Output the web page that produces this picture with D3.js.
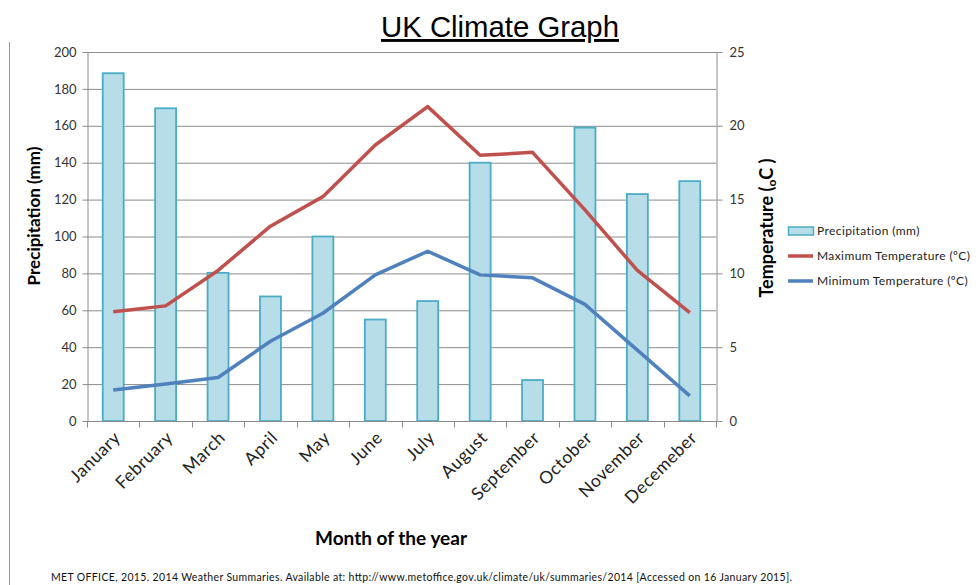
<!DOCTYPE html>
<html>
<head>
<meta charset="utf-8">
<script src="https://cdn.jsdelivr.net/npm/d3@7"></script>
<style>
  body { margin: 0; background: #fff; }
  svg { display: block; }
  .tick text { font-family: Lato, "Open Sans", sans-serif; fill: #333; }
</style>
</head>
<body>
<svg id="chart" width="976" height="585"></svg>
<script>
// ---- data ----
const months = ['January', 'February', 'March', 'April', 'May', 'June', 'July',
  'August', 'September', 'October', 'November', 'Decemeber'];
const precipitation = [188.5, 169.5, 80.3, 67.5, 100, 55, 65, 140, 22.2, 159, 123, 130];
const maxTemp = [7.4, 7.8, 10.2, 13.2, 15.2, 18.7, 21.3, 18.0, 18.2, 14.3, 10.2, 7.35];
const minTemp = [2.1, 2.5, 2.95, 5.4, 7.3, 9.9, 11.5, 9.9, 9.7, 7.9, 4.8, 1.7];
const precipTicks = [0, 20, 40, 60, 80, 100, 120, 140, 160, 180, 200];
const tempTicks = [0, 5, 10, 15, 20, 25];

const legendItems = [
  {label: 'Precipitation (mm)', type: 'bar'},
  {label: 'Maximum Temperature  (\u00BAC)', type: 'line', color: '#C0504D'},
  {label: 'Minimum Temperature  (\u00BAC)', type: 'line', color: '#4F81BD'}
];

// ---- layout ----
const svg = d3.select('#chart');
const plot = {left: 87, right: 716, top: 52, bottom: 421};
const sans = 'Lato, "Open Sans", sans-serif';

const x = d3.scaleBand().domain(months).range([plot.left, plot.right]).padding(0);
const yP = d3.scaleLinear().domain([0, 200]).range([plot.bottom, plot.top]);
const yT = d3.scaleLinear().domain([0, 25]).range([plot.bottom, plot.top]);

// left page border
svg.append('line')
  .attr('x1', 9.5).attr('x2', 9.5).attr('y1', 42).attr('y2', 585)
  .attr('stroke', '#999').attr('stroke-width', 1);

// title
svg.append('text')
  .attr('x', 500).attr('y', 37)
  .attr('text-anchor', 'middle')
  .attr('textLength', 238).attr('lengthAdjust', 'spacingAndGlyphs')
  .style('font-family', '"Liberation Sans", Arial, sans-serif')
  .style('font-size', '29px')
  .style('text-decoration', 'underline')
  .text('UK Climate Graph');

// gridlines
svg.append('g')
  .selectAll('line')
  .data(precipTicks.slice(1))
  .join('line')
  .attr('x1', plot.left).attr('x2', plot.right)
  .attr('y1', d => yP(d) + 0.5).attr('y2', d => yP(d) + 0.5)
  .attr('stroke', '#8c8c8c').attr('stroke-width', 1);

// bars
const barW = x.bandwidth() * 0.4;
svg.append('g')
  .selectAll('rect')
  .data(precipitation)
  .join('rect')
  .attr('x', (d, i) => x(months[i]) + (x.bandwidth() - barW) / 2)
  .attr('y', d => yP(d))
  .attr('width', barW)
  .attr('height', d => yP(0) - yP(d))
  .attr('fill', '#B7DDE8')
  .attr('stroke', '#4BACC6')
  .attr('stroke-width', 1.8);

// left axis
const leftAxis = svg.append('g')
  .attr('transform', `translate(${plot.left + 0.5},0)`)
  .call(d3.axisLeft(yP).tickValues(precipTicks).tickSize(5).tickSizeOuter(0).tickPadding(6));
leftAxis.selectAll('text').style('font-size', '13px');

// right axis
const rightAxis = svg.append('g')
  .attr('transform', `translate(${plot.right + 0.5},0)`)
  .call(d3.axisRight(yT).tickValues(tempTicks).tickSize(6).tickSizeOuter(0).tickPadding(7));
rightAxis.selectAll('text').style('font-size', '13px');

// bottom axis: ticks at band boundaries
const bottom = svg.append('g').attr('transform', `translate(0,${plot.bottom + 0.5})`);
bottom.append('line')
  .attr('x1', plot.left).attr('x2', plot.right + 6)
  .attr('stroke', '#8c8c8c');
bottom.selectAll('line.tk')
  .data(months.map(m => x(m)).concat([plot.right]))
  .join('line')
  .attr('class', 'tk')
  .attr('x1', d => Math.round(d) + 0.5).attr('x2', d => Math.round(d) + 0.5)
  .attr('y1', 0).attr('y2', 6)
  .attr('stroke', '#8c8c8c');
bottom.selectAll('text')
  .data(months)
  .join('text')
  .attr('transform', d => `translate(${x(d) + x.bandwidth() / 2 + 4},${13}) rotate(-45)`)
  .attr('text-anchor', 'end')
  .attr('dy', '0.35em')
  .style('font-family', sans)
  .style('font-size', '17.5px')
  .style('letter-spacing', '0.5px')
  .style('fill', '#222')
  .text(d => d);

svg.selectAll('.domain, .tick line').attr('stroke', '#8c8c8c');

// lines
const line = d3.line()
  .x((d, i) => x(months[i]) + x.bandwidth() / 2)
  .y(d => yT(d));
[[maxTemp, '#C0504D'], [minTemp, '#4F81BD']].forEach(([data, color]) => {
  svg.append('path')
    .datum(data)
    .attr('d', line)
    .attr('fill', 'none')
    .attr('stroke', color)
    .attr('stroke-width', 3.5)
    .attr('stroke-linejoin', 'round');
});

// axis titles
svg.append('text')
  .attr('transform', 'translate(40,216) rotate(-90)')
  .attr('text-anchor', 'middle')
  .style('font-family', sans).style('font-weight', 'bold').style('font-size', '17px')
  .text('Precipitation (mm)');

const rt = svg.append('text')
  .attr('transform', 'translate(773,228) rotate(-90)')
  .attr('text-anchor', 'middle')
  .style('font-family', sans).style('font-weight', 'bold').style('font-size', '18px');
rt.append('tspan').text('Temperature (');
rt.append('tspan').attr('dy', 3).style('font-size', '12px').text('o');
rt.append('tspan').attr('dy', -3).text('C )');

svg.append('text')
  .attr('x', 391).attr('y', 545)
  .attr('text-anchor', 'middle')
  .style('font-family', sans).style('font-weight', 'bold').style('font-size', '19px')
  .text('Month of the year');

// legend
const legend = svg.append('g').attr('transform', 'translate(788,231)');
const li = legend.selectAll('g')
  .data(legendItems)
  .join('g')
  .attr('transform', (d, i) => `translate(0,${i * 25})`);
li.filter(d => d.type === 'bar').append('rect')
  .attr('x', 0.5).attr('y', -4).attr('width', 25).attr('height', 8)
  .attr('fill', '#B7DDE8').attr('stroke', '#4BACC6').attr('stroke-width', 1.5);
li.filter(d => d.type === 'line').append('line')
  .attr('x1', 0).attr('x2', 25).attr('y1', 0).attr('y2', 0)
  .attr('stroke', d => d.color).attr('stroke-width', 3.5);
li.append('text')
  .attr('x', 29).attr('dy', '0.35em')
  .style('font-family', sans).style('font-size', '12px').style('fill', '#222')
  .style('letter-spacing', '0.4px')
  .text(d => d.label);

// source note
svg.append('text')
  .attr('x', 51).attr('y', 581)
  .attr('textLength', 741)
  .style('font-family', sans).style('font-size', '10.5px').style('fill', '#111')
  .text('MET OFFICE, 2015. 2014 Weather Summaries. Available at: http://www.metoffice.gov.uk/climate/uk/summaries/2014 [Accessed on 16 January 2015].');
</script>
</body>
</html>
